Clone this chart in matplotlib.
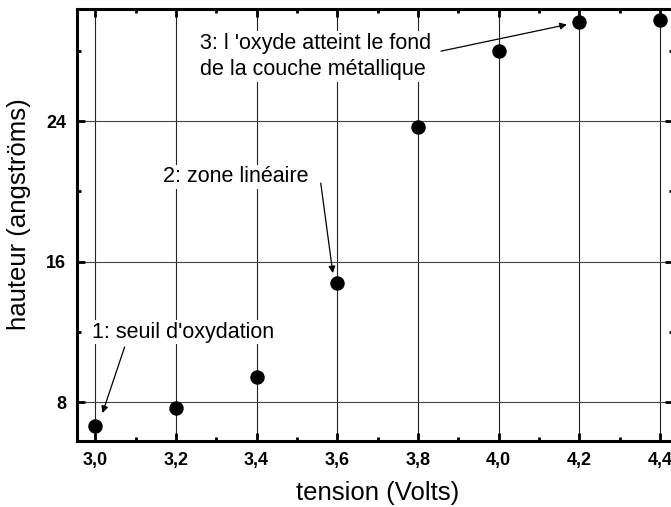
import matplotlib
matplotlib.use("Agg")
import matplotlib.pyplot as plt
from matplotlib.ticker import MultipleLocator, FixedLocator, FuncFormatter

plt.rcParams['font.family'] = ['Liberation Sans', 'DejaVu Sans']

# Oxide height versus applied voltage
tension = [3.0, 3.2, 3.4, 3.6, 3.8, 4.0, 4.2, 4.4]
hauteur = [6.65, 7.66, 9.42, 14.77, 23.68, 27.98, 29.65, 29.75]

x_major = [3.0, 3.2, 3.4, 3.6, 3.8, 4.0, 4.2, 4.4]
y_major = [8, 16, 24]

fig = plt.figure(figsize=(6.71, 5.07), dpi=100)
ax = fig.add_axes([0.1148, 0.1302, 0.8882, 0.8511])

ax.set_xlim(2.955, 4.432)
ax.set_ylim(5.8, 30.35)

# grid at major positions
for xv in x_major:
    ax.axvline(xv, color='#222222', lw=0.8, zorder=1)
for yv in y_major:
    ax.axhline(yv, color='#444444', lw=0.8, zorder=1)

ax.plot(tension, hauteur, 'o', color='black', markersize=9.4, zorder=3)

ax.xaxis.set_major_locator(FixedLocator(x_major))
ax.xaxis.set_minor_locator(MultipleLocator(0.1))
ax.yaxis.set_major_locator(FixedLocator(y_major))
ax.yaxis.set_minor_locator(MultipleLocator(4))
ax.xaxis.set_major_formatter(FuncFormatter(lambda v, p: f"{v:.1f}".replace('.', ',')))
ax.yaxis.set_major_formatter(FuncFormatter(lambda v, p: f"{v:.0f}"))

ax.tick_params(which='both', direction='in', top=True, right=True, width=2.0)
ax.tick_params(which='major', length=6, pad=8, labelsize=13)
ax.tick_params(which='minor', length=3)
for lab in ax.get_xticklabels() + ax.get_yticklabels():
    lab.set_fontweight('bold')

for sp in ax.spines.values():
    sp.set_linewidth(2.2)

ax.set_xlabel('tension (Volts)', fontsize=18.5)
ax.set_ylabel('hauteur (angströms)', fontsize=18.5)
ax.xaxis.label.set_va('center')
ax.yaxis.label.set_va('center')
ax.xaxis.set_label_coords(0.505, -0.12)
ax.yaxis.set_label_coords(-0.098, 0.526)

box = dict(facecolor='white', edgecolor='none', pad=1.0)
arrow = dict(arrowstyle='-|>', lw=0.9, color='black', mutation_scale=10,
             shrinkA=0, shrinkB=0)

ax.text(2.993, 12.0, "1: seuil d'oxydation", fontsize=15.5, va='center',
        ha='left', bbox=box, zorder=4)
ax.annotate('', xy=(3.018, 7.39), xytext=(3.073, 11.15),
            arrowprops=arrow, zorder=4)

ax.text(3.167, 20.82, "2: zone linéaire", fontsize=15.5, va='center',
        ha='left', bbox=box, zorder=4)
ax.annotate('', xy=(3.589, 15.35), xytext=(3.559, 20.47),
            arrowprops=arrow, zorder=4)

ax.text(3.259, 27.67, "3: l 'oxyde atteint le fond\nde la couche métallique",
        fontsize=15.5, va='center', ha='left', linespacing=1.35, bbox=box,
        zorder=4)
ax.annotate('', xy=(4.169, 29.49), xytext=(3.857, 27.98),
            arrowprops=arrow, zorder=4)

fig.savefig('out.png', dpi=100)
